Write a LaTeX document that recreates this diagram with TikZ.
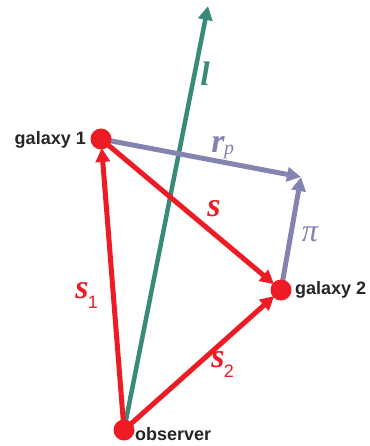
\documentclass[tikz,border=0pt]{standalone}
\usepackage{fontspec}
\setmainfont{Liberation Serif}
\setsansfont{Liberation Sans}
\usetikzlibrary{arrows.meta}
\definecolor{cred}{HTML}{ED1C24}
\definecolor{cteal}{HTML}{3A8A78}
\definecolor{cpurp}{HTML}{8584B0}
\tikzset{
  vec/.style={line width=5pt,-{Triangle[length=14pt,width=14pt]}},
  dot/.style={circle,fill=cred,inner sep=0pt,minimum size=21pt},
  gal/.style={font=\sffamily\bfseries\fontsize{18}{18}\selectfont,text=black!85,inner sep=0pt},
  ml/.style={font=\bfseries\itshape\fontsize{34}{34}\selectfont,inner sep=0pt},
  subs/.style={font=\sffamily\mdseries\upshape\fontsize{18}{18}\selectfont,inner sep=0pt},
}
\begin{document}
\begin{tikzpicture}[x=1pt,y=-1pt]
\useasboundingbox (0,0) rectangle (369,446);
\coordinate (ltip) at (208,6);
\coordinate (pt) at (301,177);
\coordinate (obsc) at (124,430);
\coordinate (g1c) at (101,139);
\coordinate (g2c) at (281,290);
% teal line of sight
\draw[vec,cteal,line width=4.5pt] (obsc) -- (ltip);
% purple
\draw[vec,cpurp] (g1c) -- (pt);
\draw[vec,cpurp,shorten <=10pt] (g2c) -- (pt);
% red
\draw[vec,cred,shorten >=9pt] (g1c) -- (g2c);
\draw[vec,cred,shorten >=9pt] (obsc) -- (g1c);
\draw[vec,cred,shorten >=9pt] (obsc) -- (g2c);
\node[dot] (obs) at (obsc) {};
\node[dot] (g1) at (g1c) {};
\node[dot] (g2) at (g2c) {};
% labels
\node[gal,anchor=east] (lg1) at (86,140) {galaxy 1};
\node[gal,anchor=west] (lg2) at (295,290) {galaxy 2};
\node[gal,anchor=west] (lob) at (135,434) {observer};
\node[ml,text=cteal] (ll) at (205,74) {l};
\node[ml,text=cpurp] (lrp) at (218,144) {r};
\node[font=\itshape\fontsize{20}{20}\selectfont,text=cpurp,inner sep=0pt] (lrps) at (229,152) {p};
\node[ml,text=cred] (ls) at (214,209) {s};
\node[font=\itshape\fontsize{32}{32}\selectfont,text=cpurp,inner sep=0pt] (lpi) at (310,234) {π};
\node[ml,text=cred] (ls1) at (82,291) {s};
\node[subs,text=cred] (ls1s) at (93,302) {1};
\node[ml,text=cred] (ls2) at (218,360) {s};
\node[subs,text=cred] (ls2s) at (229,371) {2};
\end{tikzpicture}
\end{document}
